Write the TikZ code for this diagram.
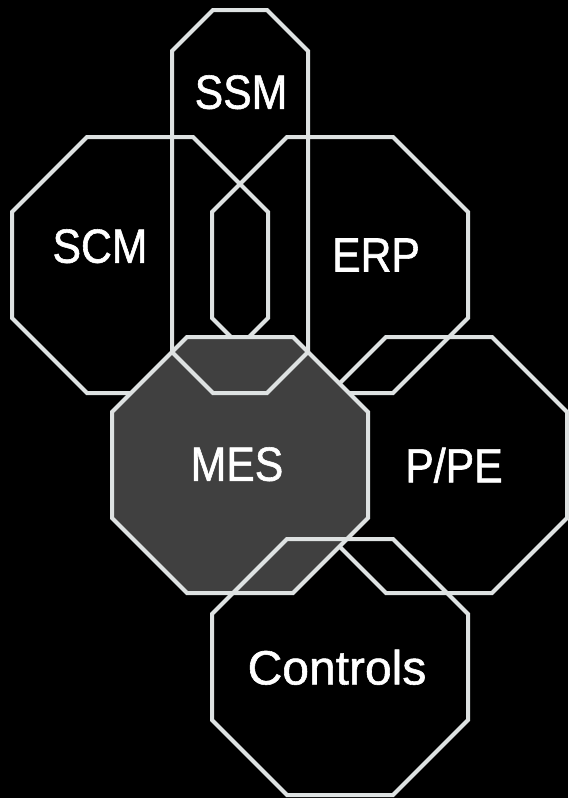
\documentclass[tikz,border=0pt]{standalone}
\usepackage{fontspec}
\newfontfamily\capsfont[FakeStretch=0.89,FakeBold=1.2]{Liberation Sans}
\newfontfamily\wordfont[FakeBold=1.2]{Liberation Sans}
\definecolor{rim}{RGB}{222,226,226}
\definecolor{mesfill}{RGB}{64,64,64}
% octagon: [style]{cx}{cy}{half width}{half height}{corner cut}
\newcommand{\octa}[6][frame]{%
  \draw[#1] (#2-#4+#6,#3-#5) -- (#2+#4-#6,#3-#5) -- (#2+#4,#3-#5+#6)
    -- (#2+#4,#3+#5-#6) -- (#2+#4-#6,#3+#5) -- (#2-#4+#6,#3+#5)
    -- (#2-#4,#3+#5-#6) -- (#2-#4,#3-#5+#6) -- cycle;}

\begin{document}
\begin{tikzpicture}[x=1pt,y=-1pt,
    frame/.style={draw=rim,line width=4pt},
    hub/.style={frame,fill=mesfill},
    tag/.style={text=white,inner sep=0pt,text depth=0pt,
      font=\capsfont\fontsize{48}{48}\selectfont}]
  \fill[black] (0,0) rectangle (568,798);
  \useasboundingbox (0,0) rectangle (568,798);
  % these lie under MES
  \octa{140}{265}{128}{128}{75}
  \octa{340}{265}{128}{128}{75}
  \octa{439}{465}{128}{128}{75}
  % MES, then the ones over it
  \octa[hub]{240}{465}{128}{128}{75}
  \octa{240}{201.5}{68}{191.5}{41}
  \octa{340}{667}{128}{128}{75}
  \node[tag] (ssm) at (241,92) {SSM};
  \node[tag] (scm) at (100,246) {SCM};
  \node[tag] (erp) at (376,255) {ERP};
  \node[tag] (mes) at (237,464) {MES};
  \node[tag] (ppe) at (454,465) {P/PE};
  \node[tag,font=\wordfont\fontsize{48}{48}\selectfont] (ctrl) at (337,667) {Controls};
\end{tikzpicture}
\end{document}
